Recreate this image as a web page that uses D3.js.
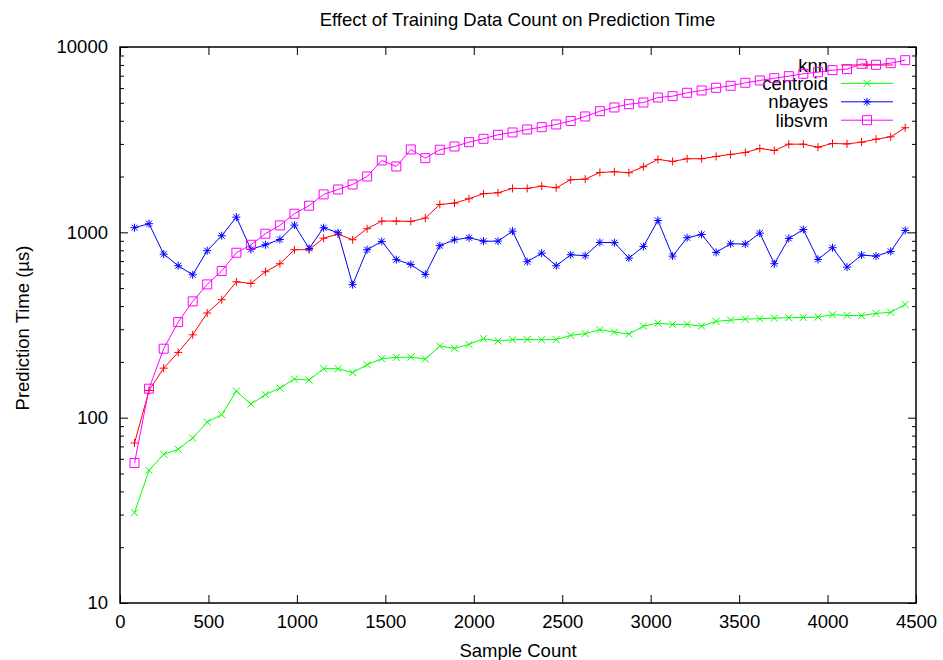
<!DOCTYPE html>
<html>
<head>
<meta charset="utf-8">
<script src="https://cdn.jsdelivr.net/npm/d3@7"></script>
<style>
  body { margin: 0; background: #fff; }
  text { font-family: "Liberation Sans", Arial, sans-serif; fill: #000; }
</style>
</head>
<body>
<svg width="943" height="660"></svg>
<script>
// sample counts along x
var samples = [82, 164, 247, 329, 411, 493, 575, 658, 740, 822, 904, 986, 1069, 1151, 1233, 1315, 1397, 1480,
  1562, 1644, 1726, 1808, 1891, 1973, 2055, 2137, 2219, 2302, 2384, 2466, 2548, 2630, 2713, 2795, 2877, 2959,
  3041, 3124, 3206, 3288, 3370, 3452, 3535, 3617, 3699, 3781, 3863, 3946, 4028, 4110, 4192, 4274, 4357, 4439];

// prediction times (us)
var knn = [73, 140, 185, 225, 280, 367, 433, 541, 530, 613, 677, 806, 806, 930, 978, 912, 1046, 1149,
  1150, 1145, 1193, 1414, 1437, 1518, 1616, 1635, 1725, 1725, 1775, 1740, 1922, 1936, 2104, 2123, 2097, 2259,
  2474, 2413, 2495, 2495, 2567, 2632, 2698, 2835, 2765, 2990, 2990, 2880, 3016, 3000, 3065, 3181, 3277, 3666];
var centroid = [30.7, 52, 63.4, 67.5, 77.6, 94.7, 103.8, 139.2, 118.4, 133.1, 144.4, 161.6, 159.5, 183.8, 183.8, 174.9, 193.2, 208.1,
  211.5, 212.3, 207.1, 243.3, 236.5, 248.5, 266.8, 259, 263.5, 264, 263.5, 264, 277.9, 283.8, 298.3, 289.5, 282.4, 311.9,
  323.7, 318.6, 318.6, 311.9, 330.7, 336.1, 340.3, 342, 344.5, 346.3, 347.5, 348.8, 359.4, 356.3, 355, 365.2, 369.8, 408.3];
var nbayes = [1059, 1113, 763, 660, 590, 796, 959, 1208, 809, 857, 915, 1094, 819, 1059, 995, 522, 806, 893,
  712, 671, 593, 847, 912, 935, 896, 896, 1015, 694, 772, 660, 757, 748, 882, 879, 726, 839,
  1159, 744, 935, 974, 779, 868, 864, 990, 677, 927, 1036, 714, 826, 649, 754, 744, 789, 1024];
var libsvm = [56.9, 143.3, 235.6, 327.8, 424, 523.6, 619, 776, 857, 983, 1090, 1260, 1392, 1602, 1703, 1813, 2002, 2443,
  2267, 2800, 2513, 2790, 2906, 3065, 3197, 3360, 3458, 3589, 3693, 3819, 3989, 4218, 4505, 4718, 4914, 5018,
  5340, 5427, 5662, 5826, 6025, 6176, 6411, 6597, 6788, 6959, 7170, 7314, 7499, 7592, 8118, 8017, 8178, 8488];

var seriesNames = ["knn", "centroid", "nbayes", "libsvm"];
var seriesColors = ["#ff0000", "#00ff00", "#0000ff", "#ff00ff"];
var xTicks = [0, 500, 1000, 1500, 2000, 2500, 3000, 3500, 4000, 4500];
var yTicks = [10, 100, 1000, 10000];

var plotLeft = 120, plotRight = 916, plotTop = 47, plotBottom = 603;
var fontSize = "18.5px";

var svg = d3.select("svg");

var x = d3.scaleLinear().domain([0, 4500]).range([plotLeft, plotRight]);
var y = d3.scaleLog().domain([10, 10000]).range([plotBottom, plotTop]);

var minorY = y.ticks().filter(function(d) { return yTicks.indexOf(d) < 0; });

// title and axis labels
svg.append("text").attr("x", (plotLeft + plotRight) / 2 - 0.5).attr("y", 26)
   .attr("text-anchor", "middle").style("font-size", fontSize)
   .text("Effect of Training Data Count on Prediction Time");
svg.append("text").attr("x", (plotLeft + plotRight) / 2).attr("y", 657)
   .attr("text-anchor", "middle").style("font-size", fontSize)
   .text("Sample Count");
svg.append("text").attr("transform", "translate(29,328) rotate(-90)")
   .attr("text-anchor", "middle").style("font-size", fontSize)
   .text("Prediction Time (µs)");

// axes with inward ticks, mirrored on top/right
function styleAxis(g) {
  g.select(".domain").remove();
  g.selectAll("line").attr("stroke", "#000");
  g.selectAll("text").style("font-size", fontSize).attr("fill", "#000");
}

svg.append("g").attr("transform", "translate(0," + plotBottom + ")")
   .call(d3.axisBottom(x).tickValues(xTicks).tickSize(-8).tickPadding(12).tickFormat(d3.format("d")))
   .call(styleAxis);
svg.append("g").attr("transform", "translate(0," + plotTop + ")")
   .call(d3.axisTop(x).tickValues(xTicks).tickSize(-8).tickFormat(""))
   .call(styleAxis);
svg.append("g").attr("transform", "translate(" + plotLeft + ",0)")
   .call(d3.axisLeft(y).tickValues(yTicks).tickSize(-8).tickPadding(12).tickFormat(d3.format("d")))
   .call(styleAxis);
svg.append("g").attr("transform", "translate(" + plotLeft + ",0)")
   .call(d3.axisLeft(y).tickValues(minorY).tickSize(-4).tickFormat(""))
   .call(styleAxis);
svg.append("g").attr("transform", "translate(" + plotRight + ",0)")
   .call(d3.axisRight(y).tickValues(yTicks).tickSize(-8).tickFormat(""))
   .call(styleAxis);
svg.append("g").attr("transform", "translate(" + plotRight + ",0)")
   .call(d3.axisRight(y).tickValues(minorY).tickSize(-4).tickFormat(""))
   .call(styleAxis);

svg.append("rect").attr("x", plotLeft).attr("y", plotTop)
   .attr("width", plotRight - plotLeft).attr("height", plotBottom - plotTop)
   .attr("fill", "none").attr("stroke", "#000").attr("stroke-width", 1.5);

// point markers like gnuplot's pt 1..4
var markers = [
  "M-4,0H4M0,-4V4",
  "M-3.5,-3.5L3.5,3.5M-3.5,3.5L3.5,-3.5",
  "M-4,0H4M0,-4V4M-3,-3L3,3M-3,3L3,-3",
  "M-4.5,-4.5H4.5V4.5H-4.5Z"
];

var allSeries = [knn, centroid, nbayes, libsvm];

var line = d3.line()
  .x(function(d, i) { return x(samples[i]); })
  .y(function(d) { return y(d); });

var keyX = 828, keyLine0 = 841, keyLine1 = 893;

allSeries.forEach(function(values, k) {
  var c = seriesColors[k];
  var ky = 65 + k * 18.4;

  // key entry
  svg.append("text").attr("x", keyX).attr("y", ky + 6.5)
     .attr("text-anchor", "end").style("font-size", fontSize)
     .text(seriesNames[k]);
  svg.append("line").attr("x1", keyLine0).attr("x2", keyLine1)
     .attr("y1", ky).attr("y2", ky).attr("stroke", c);
  svg.append("path").attr("d", markers[k])
     .attr("transform", "translate(" + ((keyLine0 + keyLine1) / 2) + "," + ky + ")")
     .attr("fill", "none").attr("stroke", c);

  // data
  svg.append("path").datum(values).attr("d", line)
     .attr("fill", "none").attr("stroke", c).attr("stroke-width", 1);
  svg.append("g").selectAll("path").data(values).enter().append("path")
     .attr("d", markers[k])
     .attr("transform", function(d, i) { return "translate(" + x(samples[i]) + "," + y(d) + ")"; })
     .attr("fill", "none").attr("stroke", c);
});
</script>
</body>
</html>
